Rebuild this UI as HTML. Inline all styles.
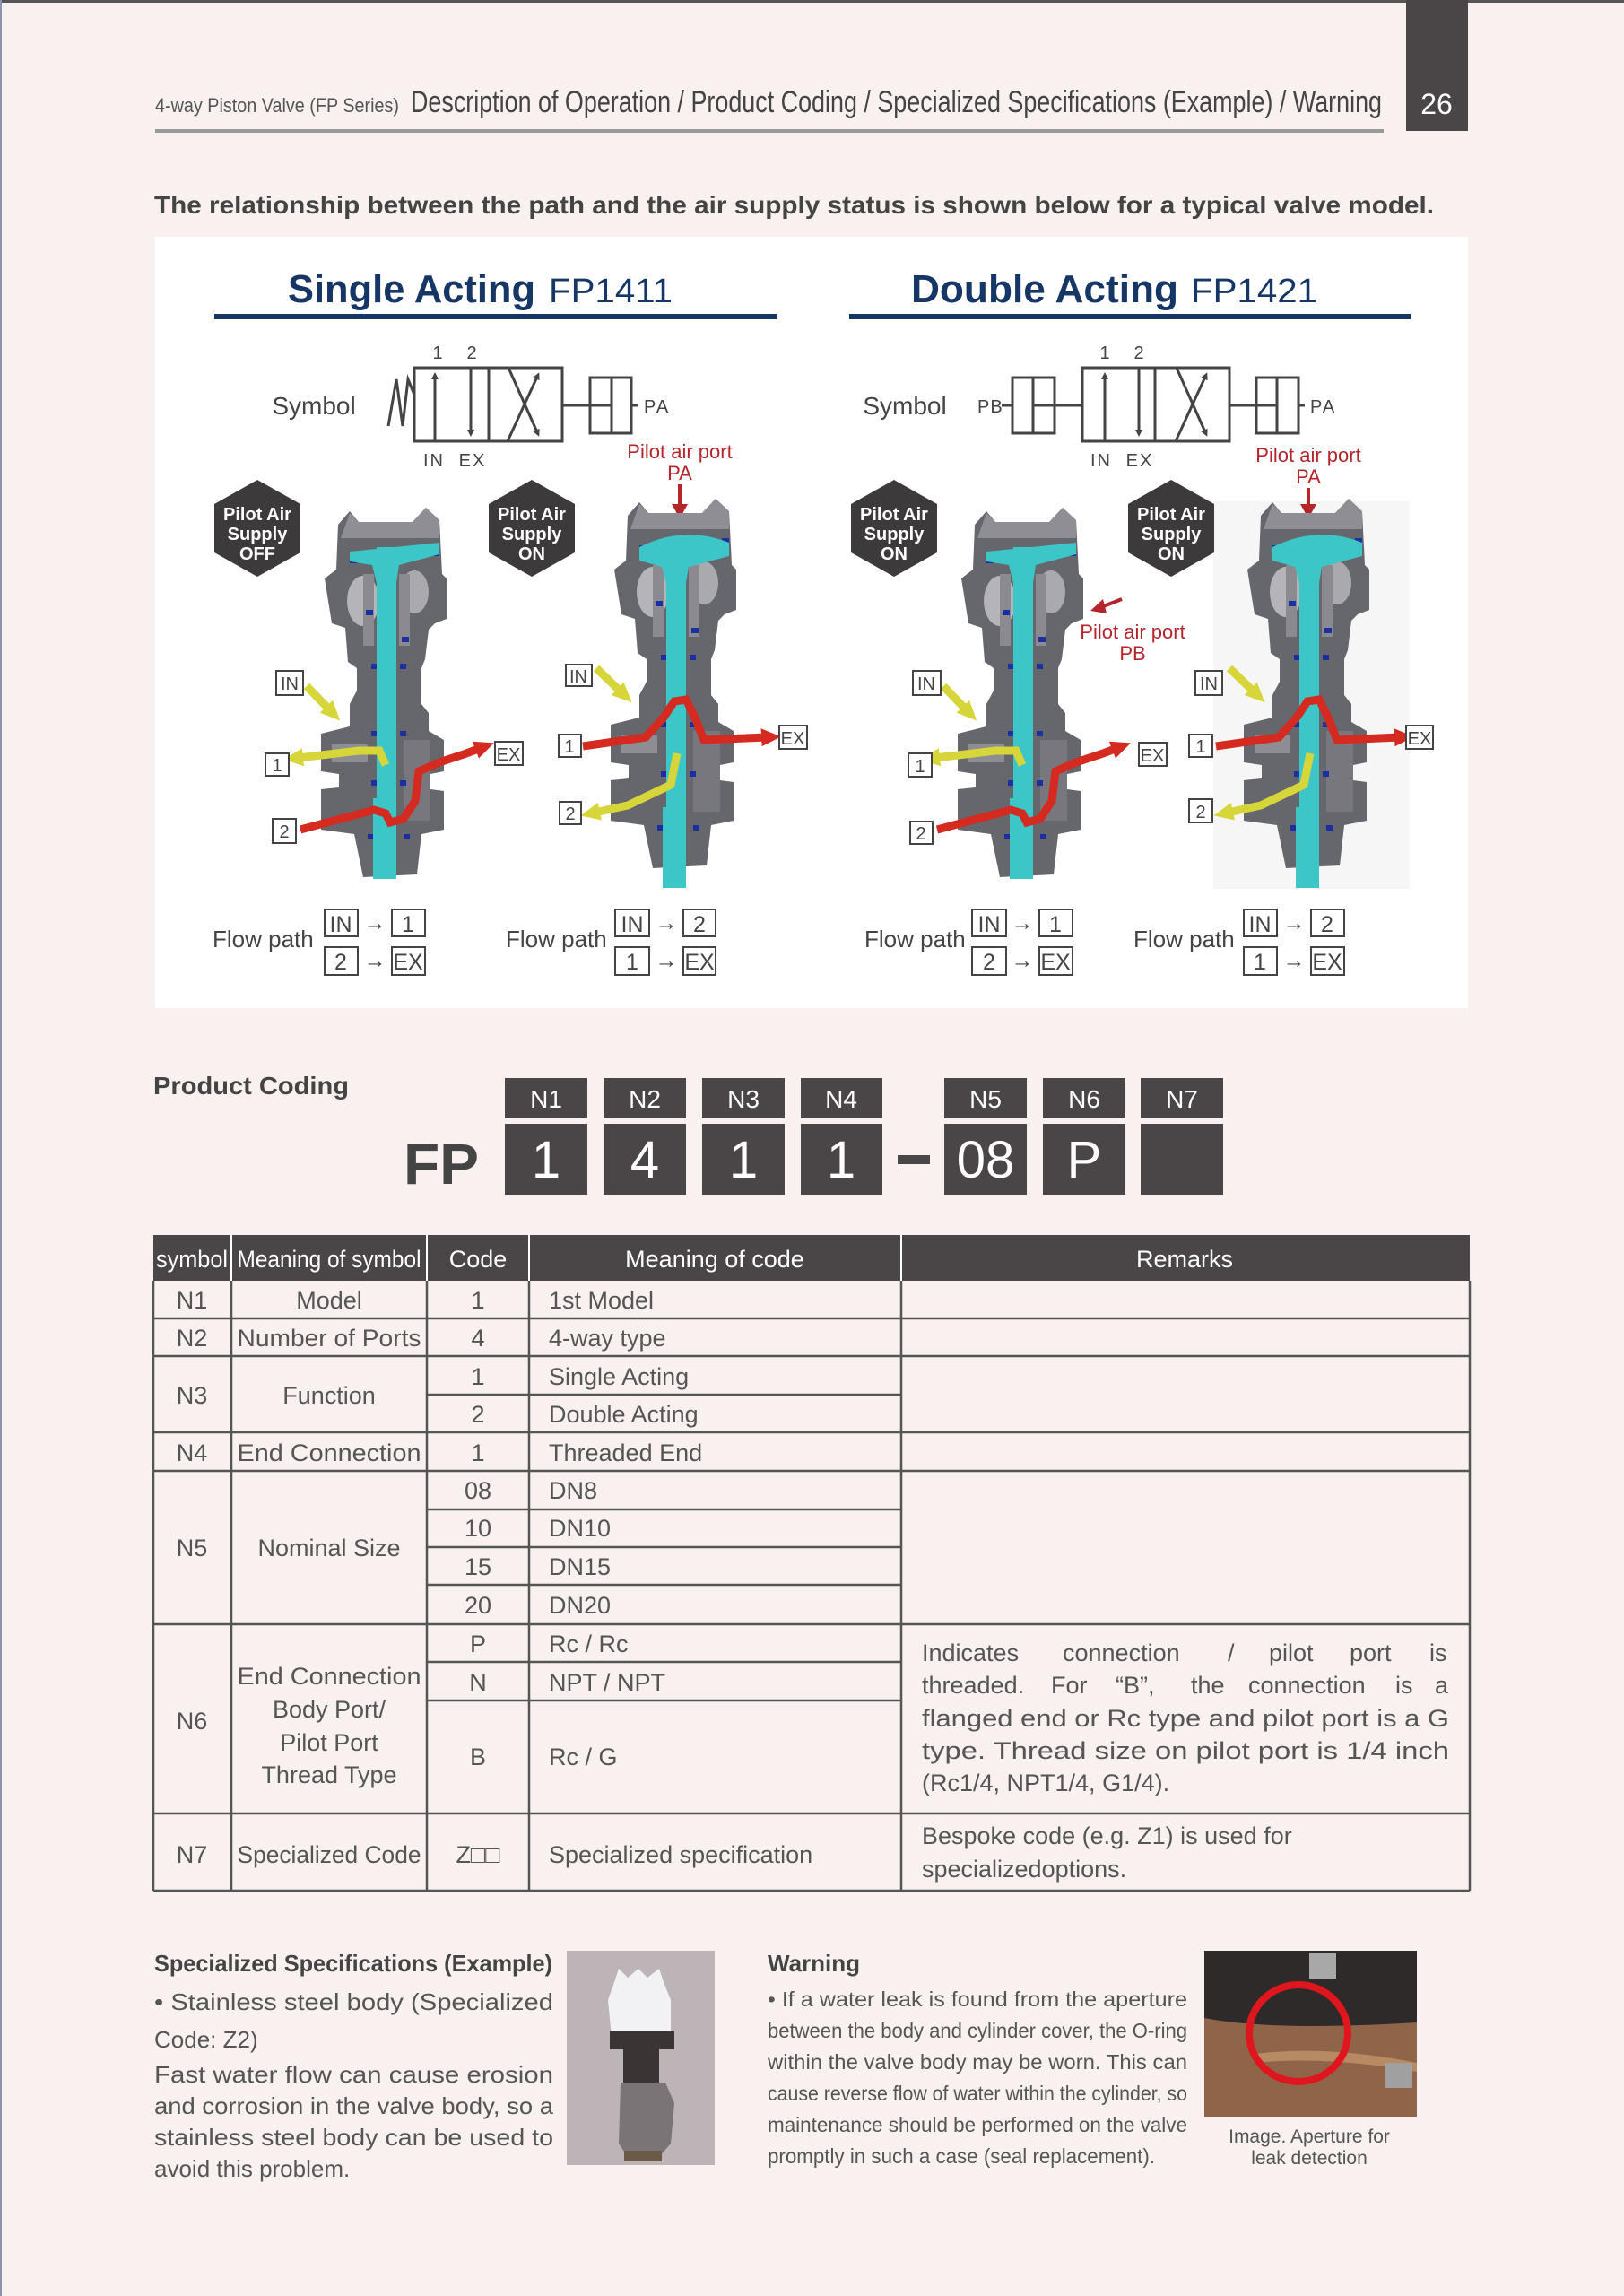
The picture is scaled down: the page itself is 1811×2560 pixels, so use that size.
<!DOCTYPE html>
<html><head><meta charset="utf-8">
<style>
html,body{margin:0;padding:0;background:#f9f0f0;}
svg{display:block;}
text{font-family:"Liberation Sans",sans-serif;}
</style></head>
<body>
<svg width="1811" height="2560" viewBox="0 0 1811 2560" xmlns="http://www.w3.org/2000/svg">
<defs>
<marker id="ar" markerWidth="8" markerHeight="8" refX="5" refY="4" orient="auto" markerUnits="userSpaceOnUse" viewBox="0 0 8 8"><path d="M0,0 L8,4 L0,8 Z" fill="#444"/></marker>
<marker id="rh" markerWidth="22" markerHeight="22" refX="6" refY="11" orient="auto" markerUnits="userSpaceOnUse"><path d="M0,1 L22,11 L0,21 Z" fill="#d42a20"/></marker>
<marker id="yh" markerWidth="22" markerHeight="22" refX="6" refY="11" orient="auto" markerUnits="userSpaceOnUse"><path d="M0,1 L22,11 L0,21 Z" fill="#d6d63a"/></marker>
<g id="vbody">
<path d="M27,25 L40,10 L50,22 L110,22 L125,6 L140,20 L143,80 L148,85 L148,130 L135,135 L128,142 L124,175 L120,185 L120,225 L128,235 L128,255 L145,265 L145,300 L130,303 L130,320 L145,322 L145,365 L120,370 L115,415 L55,418 L45,370 L8,365 L8,320 L28,318 L28,303 L8,300 L8,258 L40,250 L40,225 L48,210 L48,185 L38,178 L35,140 L20,135 L12,85 L25,75 Z" fill="#66666d"/>
<path d="M40,12 L50,22 L110,22 L125,6 L140,20 L140,40 L30,40 Z" fill="#8e8e94"/>
<ellipse cx="55" cy="110" rx="18" ry="28" fill="#b4b4b9"/>
<ellipse cx="112" cy="100" rx="16" ry="24" fill="#a9a9ae"/>
<rect x="55" y="80" width="12" height="80" fill="#8a8a90"/>
<rect x="95" y="80" width="12" height="80" fill="#8a8a90"/>
<rect x="20" y="270" width="40" height="20" fill="#8d8d93"/>
<rect x="100" y="265" width="30" height="90" fill="#77777d"/>
<rect x="58" y="120" width="8" height="6" fill="#1c2fa0"/><rect x="98" y="150" width="8" height="6" fill="#1c2fa0"/>
<rect x="64" y="180" width="7" height="6" fill="#1c2fa0"/><rect x="96" y="180" width="7" height="6" fill="#1c2fa0"/>
<rect x="64" y="255" width="7" height="6" fill="#1c2fa0"/><rect x="96" y="255" width="7" height="6" fill="#1c2fa0"/>
<rect x="64" y="310" width="7" height="6" fill="#1c2fa0"/><rect x="96" y="310" width="7" height="6" fill="#1c2fa0"/>
<rect x="60" y="370" width="7" height="6" fill="#1c2fa0"/><rect x="100" y="370" width="7" height="6" fill="#1c2fa0"/>
<rect x="40" y="58" width="8" height="10" fill="#1c2fa0"/><rect x="132" y="50" width="8" height="10" fill="#1c2fa0"/>
</g>
</defs>

<rect x="0" y="0" width="1811" height="3" fill="#555"/>
<rect x="0" y="0" width="2" height="2560" fill="#8a94b0"/>

<rect x="1568" y="0" width="69" height="146" fill="#4a4648"/>
<text x="1602" y="127" font-size="32" fill="#fff" text-anchor="middle">26</text>
<text x="173" y="125" font-size="22" fill="#555" textLength="272" lengthAdjust="spacingAndGlyphs">4-way Piston Valve (FP Series)</text>
<text x="458" y="125" font-size="34" fill="#444" textLength="1083" lengthAdjust="spacingAndGlyphs">Description of Operation / Product Coding / Specialized Specifications (Example) / Warning</text>
<rect x="173" y="144" width="1370" height="4" fill="#999"/>

<text x="172" y="238" font-size="28" font-weight="bold" fill="#444" textLength="1427" lengthAdjust="spacingAndGlyphs">The relationship between the path and the air supply status is shown below for a typical valve model.</text>

<rect x="173" y="264" width="1464" height="860" fill="#ffffff"/>
<rect x="1353" y="559" width="219" height="432" fill="#f6f6f6"/>

<text x="321" y="337" font-size="44" font-weight="bold" fill="#163766" textLength="276" lengthAdjust="spacingAndGlyphs">Single Acting</text>
<text x="612" y="337" font-size="38" fill="#163766" textLength="138" lengthAdjust="spacingAndGlyphs">FP1411</text>
<rect x="239" y="350" width="627" height="6" fill="#163766"/>
<text x="1016" y="337" font-size="44" font-weight="bold" fill="#163766" textLength="298" lengthAdjust="spacingAndGlyphs">Double Acting</text>
<text x="1328" y="337" font-size="38" fill="#163766" textLength="141" lengthAdjust="spacingAndGlyphs">FP1421</text>
<rect x="947" y="350" width="626" height="6" fill="#163766"/>

<g stroke="#444" stroke-width="3" fill="none">
<text x="350" y="462" font-size="28" fill="#444" stroke="none" text-anchor="middle">Symbol</text>
<polyline points="433,475 442,423 449,475 455,423 462,440"/>
<rect x="462" y="410" width="165" height="82"/>
<line x1="545" y1="410" x2="545" y2="492"/>
<line x1="485" y1="492" x2="485" y2="418" marker-end="url(#ar)"/>
<line x1="525" y1="410" x2="525" y2="484" marker-end="url(#ar)"/>
<line x1="566" y1="492" x2="600" y2="418" marker-end="url(#ar)"/>
<line x1="567" y1="410" x2="600" y2="484" marker-end="url(#ar)"/>
<line x1="627" y1="452" x2="682" y2="452"/>
<rect x="658" y="421" width="46" height="62"/>
<line x1="682" y1="421" x2="682" y2="483"/>
<line x1="704" y1="452" x2="711" y2="452"/>
</g>
<g font-size="20" fill="#444">
<text x="488" y="400" text-anchor="middle">1</text><text x="526" y="400" text-anchor="middle">2</text>
<text x="484" y="520" text-anchor="middle" letter-spacing="2">IN</text><text x="527" y="520" text-anchor="middle" letter-spacing="2">EX</text>
<text x="718" y="460" letter-spacing="2">PA</text>
</g>
<text x="758" y="511" font-size="22" fill="#b5252c" text-anchor="middle">Pilot air port</text>
<text x="758" y="535" font-size="22" fill="#b5252c" text-anchor="middle">PA</text>
<line x1="758" y1="540" x2="758" y2="566" stroke="#b5252c" stroke-width="4"/>
<path d="M749,562 L767,562 L758,578 Z" fill="#b5252c"/>

<g stroke="#444" stroke-width="3" fill="none">
<text x="1009" y="462" font-size="28" fill="#444" stroke="none" text-anchor="middle">Symbol</text>
<line x1="1117" y1="452" x2="1129" y2="452"/>
<rect x="1129" y="421" width="47" height="62"/>
<line x1="1152" y1="421" x2="1152" y2="483"/>
<line x1="1152" y1="452" x2="1207" y2="452"/>
<rect x="1207" y="410" width="164" height="82"/>
<line x1="1288" y1="410" x2="1288" y2="492"/>
<line x1="1232" y1="492" x2="1232" y2="418" marker-end="url(#ar)"/>
<line x1="1270" y1="410" x2="1270" y2="484" marker-end="url(#ar)"/>
<line x1="1311" y1="492" x2="1345" y2="418" marker-end="url(#ar)"/>
<line x1="1312" y1="410" x2="1345" y2="484" marker-end="url(#ar)"/>
<line x1="1371" y1="452" x2="1424" y2="452"/>
<rect x="1401" y="421" width="47" height="62"/>
<line x1="1424" y1="421" x2="1424" y2="483"/>
<line x1="1448" y1="452" x2="1455" y2="452"/>
</g>
<g font-size="20" fill="#444">
<text x="1090" y="460" letter-spacing="1">PB</text>
<text x="1232" y="400" text-anchor="middle">1</text><text x="1270" y="400" text-anchor="middle">2</text>
<text x="1228" y="520" text-anchor="middle" letter-spacing="2">IN</text><text x="1271" y="520" text-anchor="middle" letter-spacing="2">EX</text>
<text x="1461" y="460" letter-spacing="2">PA</text>
</g>
<text x="1459" y="515" font-size="22" fill="#b5252c" text-anchor="middle">Pilot air port</text>
<text x="1459" y="539" font-size="22" fill="#b5252c" text-anchor="middle">PA</text>
<line x1="1459" y1="544" x2="1459" y2="566" stroke="#b5252c" stroke-width="4"/>
<path d="M1450,562 L1468,562 L1459,578 Z" fill="#b5252c"/>

<g fill="#3d3a3c">
<polygon points="287,535 335,562 335,616 287,643 239,616 239,562"/>
<polygon points="593,535 641,562 641,616 593,643 545,616 545,562"/>
<polygon points="997,535 1045,562 1045,616 997,643 949,616 949,562"/>
<polygon points="1306,535 1354,562 1354,616 1306,643 1258,616 1258,562"/>
</g>
<g font-size="20" font-weight="bold" fill="#fff" text-anchor="middle">
<text x="287" y="580">Pilot Air</text><text x="287" y="602">Supply</text><text x="287" y="624">OFF</text>
<text x="593" y="580">Pilot Air</text><text x="593" y="602">Supply</text><text x="593" y="624">ON</text>
<text x="997" y="580">Pilot Air</text><text x="997" y="602">Supply</text><text x="997" y="624">ON</text>
<text x="1306" y="580">Pilot Air</text><text x="1306" y="602">Supply</text><text x="1306" y="624">ON</text>
</g>

<g transform="translate(350,560)">
<use href="#vbody"/>
<path d="M40,55 L140,45 L140,58 L95,70 L92,90 L70,90 L65,70 L40,66 Z" fill="#3cc6c8"/>
<rect x="70" y="50" width="22" height="300" fill="#3cc6c8"/>
<rect x="66" y="330" width="26" height="90" fill="#3cc6c8"/>
<path d="M-8,205 L18,232" stroke="#d6d63a" stroke-width="9" fill="none" marker-end="url(#yh)"/>
<path d="M80,293 L73,277 L50,277 L0,283 L-18,285" stroke="#d6d63a" stroke-width="9" fill="none" marker-end="url(#yh)"/>
<path d="M-15,365 L67,343 L80,347 L85,357 L100,353 L113,333 L117,300 L140,290 L170,280 L186,274" stroke="#d42a20" stroke-width="9" fill="none" marker-end="url(#rh)"/>
</g>
<g transform="translate(673,550)">
<use href="#vbody"/>
<path d="M40,60 Q90,35 140,55 L140,70 L95,82 L92,100 L70,100 L65,82 L40,75 Z" fill="#3cc6c8"/>
<rect x="70" y="60" width="22" height="310" fill="#3cc6c8"/>
<rect x="66" y="350" width="26" height="90" fill="#3cc6c8"/>
<path d="M-8,195 L20,222" stroke="#d6d63a" stroke-width="9" fill="none" marker-end="url(#yh)"/>
<path d="M82,290 L75,325 L27,348 L-10,356" stroke="#d6d63a" stroke-width="9" fill="none" marker-end="url(#yh)"/>
<path d="M-23,282 L47,272 L67,250 L79,232 L92,230 L102,250 L112,275 L182,272" stroke="#d42a20" stroke-width="9" fill="none" marker-end="url(#rh)"/>
</g>
<g transform="translate(1060,560)">
<use href="#vbody"/>
<path d="M40,55 L140,45 L140,58 L95,70 L92,90 L70,90 L65,70 L40,66 Z" fill="#3cc6c8"/>
<rect x="70" y="50" width="22" height="300" fill="#3cc6c8"/>
<rect x="66" y="330" width="26" height="90" fill="#3cc6c8"/>
<path d="M-8,205 L18,232" stroke="#d6d63a" stroke-width="9" fill="none" marker-end="url(#yh)"/>
<path d="M80,293 L73,277 L50,277 L0,283 L-18,285" stroke="#d6d63a" stroke-width="9" fill="none" marker-end="url(#yh)"/>
<path d="M-15,365 L67,343 L80,347 L85,357 L100,353 L113,333 L117,300 L140,290 L170,280 L186,274" stroke="#d42a20" stroke-width="9" fill="none" marker-end="url(#rh)"/>
</g>
<path d="M1251,668 L1228,677" stroke="#b5252c" stroke-width="4"/>
<path d="M1216,681 L1230,668 L1234,684 Z" fill="#b5252c"/>
<text x="1263" y="712" font-size="22" fill="#b5252c" text-anchor="middle">Pilot air port</text>
<text x="1263" y="736" font-size="22" fill="#b5252c" text-anchor="middle">PB</text>
<g transform="translate(1379,550)">
<use href="#vbody"/>
<path d="M40,60 Q90,35 140,55 L140,70 L95,82 L92,100 L70,100 L65,82 L40,75 Z" fill="#3cc6c8"/>
<rect x="70" y="60" width="22" height="310" fill="#3cc6c8"/>
<rect x="66" y="350" width="26" height="90" fill="#3cc6c8"/>
<path d="M-8,195 L20,222" stroke="#d6d63a" stroke-width="9" fill="none" marker-end="url(#yh)"/>
<path d="M82,290 L75,325 L27,348 L-10,356" stroke="#d6d63a" stroke-width="9" fill="none" marker-end="url(#yh)"/>
<path d="M-23,282 L47,272 L67,250 L79,232 L92,230 L102,250 L112,275 L182,272" stroke="#d42a20" stroke-width="9" fill="none" marker-end="url(#rh)"/>
</g>

<g stroke="#444" stroke-width="2" fill="#fff">
<rect x="308" y="748" width="30" height="27"/><rect x="296" y="840" width="26" height="25"/><rect x="304" y="913" width="26" height="27"/><rect x="552" y="827" width="31" height="26"/>
<rect x="631" y="741" width="29" height="24"/><rect x="623" y="819" width="25" height="25"/><rect x="624" y="894" width="24" height="25"/><rect x="869" y="809" width="31" height="26"/>
<rect x="1018" y="748" width="31" height="27"/><rect x="1013" y="840" width="26" height="26"/><rect x="1015" y="916" width="25" height="25"/><rect x="1270" y="828" width="31" height="26"/>
<rect x="1333" y="748" width="30" height="27"/><rect x="1326" y="819" width="26" height="25"/><rect x="1326" y="891" width="26" height="26"/><rect x="1568" y="809" width="30" height="26"/>
</g>
<g font-size="20" fill="#444" text-anchor="middle">
<text x="323" y="769">IN</text><text x="309" y="860">1</text><text x="317" y="934">2</text><text x="567" y="848">EX</text>
<text x="645" y="761">IN</text><text x="635" y="839">1</text><text x="636" y="914">2</text><text x="884" y="830">EX</text>
<text x="1033" y="769">IN</text><text x="1026" y="861">1</text><text x="1027" y="936">2</text><text x="1285" y="849">EX</text>
<text x="1348" y="769">IN</text><text x="1339" y="839">1</text><text x="1339" y="912">2</text><text x="1583" y="830">EX</text>
</g>

<g font-size="26" fill="#444">
<text x="237" y="1056">Flow path</text>
<text x="564" y="1056">Flow path</text>
<text x="964" y="1056">Flow path</text>
<text x="1264" y="1056">Flow path</text>
</g>
<g stroke="#444" stroke-width="2" fill="none">
<rect x="362" y="1014" width="37" height="30"/><rect x="437" y="1014" width="37" height="30"/><rect x="362" y="1056" width="37" height="31"/><rect x="437" y="1056" width="37" height="31"/>
<rect x="686" y="1014" width="38" height="30"/><rect x="762" y="1014" width="36" height="30"/><rect x="686" y="1056" width="38" height="31"/><rect x="762" y="1056" width="36" height="31"/>
<rect x="1084" y="1014" width="38" height="30"/><rect x="1159" y="1014" width="37" height="30"/><rect x="1084" y="1056" width="38" height="31"/><rect x="1159" y="1056" width="37" height="31"/>
<rect x="1387" y="1014" width="37" height="30"/><rect x="1462" y="1014" width="37" height="30"/><rect x="1387" y="1056" width="37" height="31"/><rect x="1462" y="1056" width="37" height="31"/>
</g>
<g font-size="25" fill="#444" text-anchor="middle">
<text x="380" y="1039">IN</text><text x="418" y="1037">→</text><text x="455" y="1039">1</text>
<text x="380" y="1081">2</text><text x="418" y="1079">→</text><text x="455" y="1081">EX</text>
<text x="705" y="1039">IN</text><text x="743" y="1037">→</text><text x="780" y="1039">2</text>
<text x="705" y="1081">1</text><text x="743" y="1079">→</text><text x="780" y="1081">EX</text>
<text x="1103" y="1039">IN</text><text x="1140" y="1037">→</text><text x="1177" y="1039">1</text>
<text x="1103" y="1081">2</text><text x="1140" y="1079">→</text><text x="1177" y="1081">EX</text>
<text x="1405" y="1039">IN</text><text x="1443" y="1037">→</text><text x="1480" y="1039">2</text>
<text x="1405" y="1081">1</text><text x="1443" y="1079">→</text><text x="1480" y="1081">EX</text>
</g>

<text x="171" y="1220" font-size="28" font-weight="bold" fill="#444" textLength="218" lengthAdjust="spacingAndGlyphs">Product Coding</text>
<text x="450" y="1320" font-size="64" font-weight="bold" fill="#444" textLength="84" lengthAdjust="spacingAndGlyphs">FP</text>
<rect x="1001" y="1288" width="36" height="10" fill="#4a4647"/>
<g fill="#4a4647">
<rect x="563" y="1202" width="92" height="45"/><rect x="563" y="1253" width="92" height="79"/>
<rect x="673" y="1202" width="92" height="45"/><rect x="673" y="1253" width="92" height="79"/>
<rect x="783" y="1202" width="92" height="45"/><rect x="783" y="1253" width="92" height="79"/>
<rect x="893" y="1202" width="91" height="45"/><rect x="893" y="1253" width="91" height="79"/>
<rect x="1053" y="1202" width="92" height="45"/><rect x="1053" y="1253" width="92" height="79"/>
<rect x="1163" y="1202" width="92" height="45"/><rect x="1163" y="1253" width="92" height="79"/>
<rect x="1272" y="1202" width="92" height="45"/><rect x="1272" y="1253" width="92" height="79"/>
</g>
<g font-size="28" fill="#fff" text-anchor="middle">
<text x="609" y="1235">N1</text><text x="719" y="1235">N2</text><text x="829" y="1235">N3</text><text x="938" y="1235">N4</text>
<text x="1099" y="1235">N5</text><text x="1209" y="1235">N6</text><text x="1318" y="1235">N7</text>
</g>
<g font-size="58" fill="#fff" text-anchor="middle">
<text x="609" y="1313">1</text><text x="719" y="1313">4</text><text x="829" y="1313">1</text><text x="938" y="1313">1</text>
<text x="1099" y="1313">08</text><text x="1209" y="1313">P</text>
</g>

<rect x="171" y="1377" width="1468" height="51" fill="#4a4648"/>
<g stroke="#fff" stroke-width="2">
<line x1="258" y1="1377" x2="258" y2="1428"/><line x1="476" y1="1377" x2="476" y2="1428"/><line x1="590" y1="1377" x2="590" y2="1428"/><line x1="1005" y1="1377" x2="1005" y2="1428"/>
</g>
<g font-size="27" fill="#fff" text-anchor="middle">
<text x="214" y="1413" textLength="80" lengthAdjust="spacingAndGlyphs">symbol</text>
<text x="367" y="1413" textLength="205" lengthAdjust="spacingAndGlyphs">Meaning of symbol</text>
<text x="533" y="1413">Code</text>
<text x="797" y="1413">Meaning of code</text>
<text x="1321" y="1413">Remarks</text>
</g>
<g stroke="#555" stroke-width="2.5" fill="none">
<line x1="171" y1="1428" x2="171" y2="2108"/><line x1="1639" y1="1428" x2="1639" y2="2108"/>
<line x1="258" y1="1428" x2="258" y2="2108"/><line x1="476" y1="1428" x2="476" y2="2108"/><line x1="590" y1="1428" x2="590" y2="2108"/><line x1="1005" y1="1428" x2="1005" y2="2108"/>
<line x1="171" y1="1470" x2="1639" y2="1470"/>
<line x1="171" y1="1512" x2="1639" y2="1512"/>
<line x1="476" y1="1555" x2="1005" y2="1555"/>
<line x1="171" y1="1597" x2="1639" y2="1597"/>
<line x1="171" y1="1640" x2="1639" y2="1640"/>
<line x1="476" y1="1683" x2="1005" y2="1683"/>
<line x1="476" y1="1725" x2="1005" y2="1725"/>
<line x1="476" y1="1767" x2="1005" y2="1767"/>
<line x1="171" y1="1811" x2="1639" y2="1811"/>
<line x1="476" y1="1853" x2="1005" y2="1853"/>
<line x1="476" y1="1896" x2="1005" y2="1896"/>
<line x1="171" y1="2022" x2="1639" y2="2022"/>
<line x1="171" y1="2108" x2="1639" y2="2108"/>
</g>
<g font-size="27" fill="#555">
<g text-anchor="middle">
<text x="214" y="1459">N1</text><text x="367" y="1459">Model</text><text x="533" y="1459">1</text>
<text x="214" y="1501">N2</text><text x="367" y="1501" textLength="205" lengthAdjust="spacingAndGlyphs">Number of Ports</text><text x="533" y="1501">4</text>
<text x="214" y="1565">N3</text><text x="367" y="1565">Function</text><text x="533" y="1544">1</text><text x="533" y="1586">2</text>
<text x="214" y="1629">N4</text><text x="367" y="1629" textLength="205" lengthAdjust="spacingAndGlyphs">End Connection</text><text x="533" y="1629">1</text>
<text x="214" y="1735">N5</text><text x="367" y="1735">Nominal Size</text>
<text x="533" y="1671">08</text><text x="533" y="1713">10</text><text x="533" y="1756">15</text><text x="533" y="1799">20</text>
<text x="214" y="1928">N6</text>
<text x="367" y="1878" textLength="205" lengthAdjust="spacingAndGlyphs">End Connection</text><text x="367" y="1915">Body Port/</text><text x="367" y="1952">Pilot Port</text><text x="367" y="1988">Thread Type</text>
<text x="533" y="1842">P</text><text x="533" y="1885">N</text><text x="533" y="1968">B</text>
<text x="214" y="2077">N7</text><text x="367" y="2077" textLength="205" lengthAdjust="spacingAndGlyphs">Specialized Code</text><text x="533" y="2077">Z□□</text>
</g>
<text x="612" y="1459">1st Model</text>
<text x="612" y="1501">4-way type</text>
<text x="612" y="1544">Single Acting</text>
<text x="612" y="1586">Double Acting</text>
<text x="612" y="1629">Threaded End</text>
<text x="612" y="1671">DN8</text><text x="612" y="1713">DN10</text><text x="612" y="1756">DN15</text><text x="612" y="1799">DN20</text>
<text x="612" y="1842">Rc / Rc</text><text x="612" y="1885">NPT / NPT</text><text x="612" y="1968">Rc / G</text>
<text x="612" y="2077">Specialized specification</text>
<text y="1852"><tspan x="1028">Indicates</tspan><tspan x="1185">connection</tspan><tspan x="1369">/</tspan><tspan x="1415">pilot</tspan><tspan x="1505">port</tspan><tspan x="1594">is</tspan></text>
<text y="1888"><tspan x="1028">threaded.</tspan><tspan x="1172">For</tspan><tspan x="1244">“B”,</tspan><tspan x="1328">the</tspan><tspan x="1392">connection</tspan><tspan x="1556">is</tspan><tspan x="1600">a</tspan></text>
<text x="1028" y="1925" textLength="588" lengthAdjust="spacingAndGlyphs">flanged end or Rc type and pilot port is a G</text>
<text x="1028" y="1961" textLength="588" lengthAdjust="spacingAndGlyphs">type. Thread size on pilot port is 1/4 inch</text>
<text x="1028" y="1997">(Rc1/4, NPT1/4, G1/4).</text>
<text x="1028" y="2056">Bespoke code (e.g. Z1) is used for</text>
<text x="1028" y="2093">specializedoptions.</text>
</g>

<text x="172" y="2198" font-size="26" font-weight="bold" fill="#444" textLength="444" lengthAdjust="spacingAndGlyphs">Specialized Specifications (Example)</text>
<g font-size="26" fill="#555">
<text x="172" y="2241" textLength="445" lengthAdjust="spacingAndGlyphs">• Stainless steel body (Specialized</text>
<text x="172" y="2283">Code: Z2)</text>
<text x="172" y="2322" textLength="445" lengthAdjust="spacingAndGlyphs">Fast water flow can cause erosion</text>
<text x="172" y="2357" textLength="445" lengthAdjust="spacingAndGlyphs">and corrosion in the valve body, so a</text>
<text x="172" y="2392" textLength="445" lengthAdjust="spacingAndGlyphs">stainless steel body can be used to</text>
<text x="172" y="2427">avoid this problem.</text>
</g>
<rect x="632" y="2175" width="165" height="239" fill="#bdb4b7"/>
<path d="M685,2210 L690,2195 L700,2205 L712,2195 L722,2205 L735,2195 L740,2210 L748,2230 L748,2270 L682,2272 L678,2230 Z" fill="#f2f2f4"/>
<rect x="680" y="2265" width="72" height="20" fill="#3a3434"/>
<rect x="695" y="2285" width="40" height="40" fill="#3a3434"/>
<path d="M692,2322 L742,2322 L752,2345 L748,2390 L735,2405 L700,2405 L690,2390 Z" fill="#7a7476"/>
<rect x="696" y="2398" width="42" height="12" fill="#6b5a48"/>

<text x="856" y="2198" font-size="26" font-weight="bold" fill="#444">Warning</text>
<g font-size="23" fill="#555">
<text x="856" y="2237" textLength="468" lengthAdjust="spacingAndGlyphs">• If a water leak is found from the aperture</text>
<text x="856" y="2272" textLength="468" lengthAdjust="spacingAndGlyphs">between the body and cylinder cover, the O-ring</text>
<text x="856" y="2307" textLength="468" lengthAdjust="spacingAndGlyphs">within the valve body may be worn. This can</text>
<text x="856" y="2342" textLength="468" lengthAdjust="spacingAndGlyphs">cause reverse flow of water within the cylinder, so</text>
<text x="856" y="2377" textLength="468" lengthAdjust="spacingAndGlyphs">maintenance should be performed on the valve</text>
<text x="856" y="2412" textLength="432" lengthAdjust="spacingAndGlyphs">promptly in such a case (seal replacement).</text>
</g>
<rect x="1343" y="2175" width="237" height="185" fill="#2e2a29"/>
<path d="M1343,2250 Q1420,2265 1580,2255 L1580,2360 L1343,2360 Z" fill="#8f6448"/>
<path d="M1400,2290 Q1480,2280 1580,2300 L1580,2310 Q1480,2292 1400,2300 Z" fill="#b88a64"/>
<rect x="1460" y="2178" width="30" height="28" fill="#a8a8a8"/>
<rect x="1545" y="2300" width="30" height="28" fill="#a0a0a0"/>
<ellipse cx="1448" cy="2267" rx="55" ry="54" fill="none" stroke="#e0161e" stroke-width="8"/>
<g font-size="21" fill="#555" text-anchor="middle">
<text x="1460" y="2389">Image. Aperture for</text>
<text x="1460" y="2413">leak detection</text>
</g>
</svg>
</body></html>
